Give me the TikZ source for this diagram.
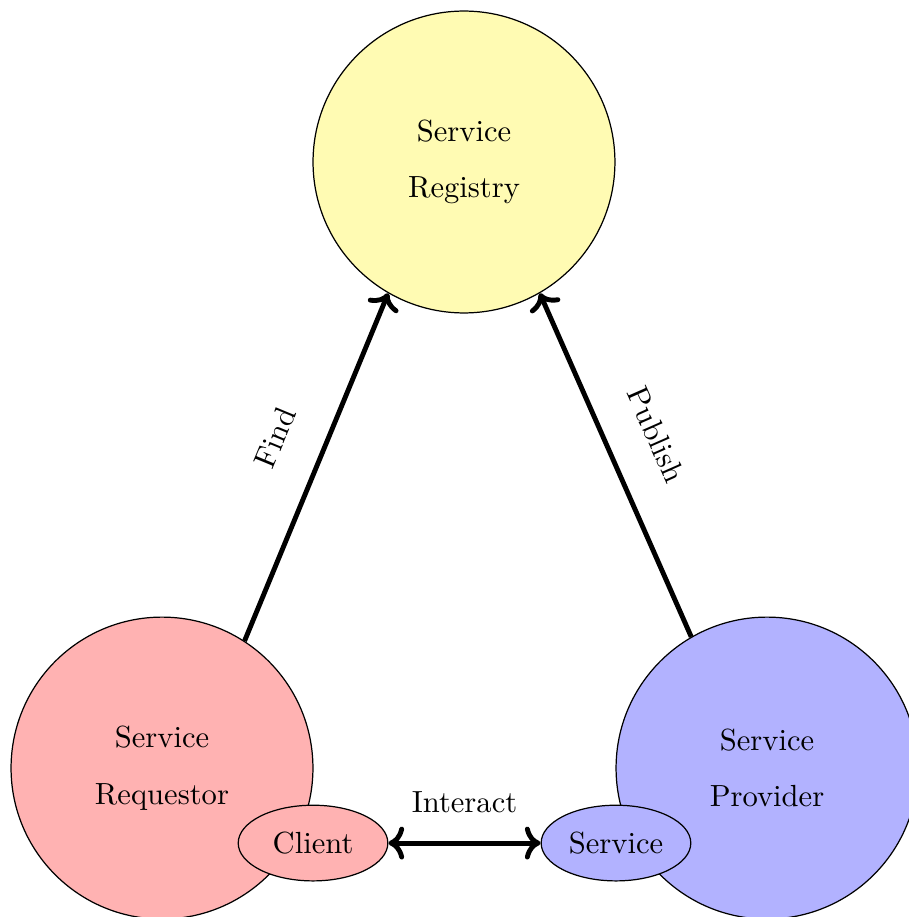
\documentclass[tikz,border=0pt]{standalone}
\usepackage{tikz}
\usetikzlibrary{arrows.meta,positioning,shapes.geometric}

\begin{document}
\begin{tikzpicture}[
  role/.style={circle,draw=black,minimum size=3.47cm,inner sep=0pt,
               align=center},
  part/.style={ellipse,draw=black,minimum width=1.72cm,minimum height=0.87cm,
               inner sep=0pt},
  arr/.style={->,ultra thick}
]
  \useasboundingbox (0,0) rectangle (10.448,-10.54);
  % the three roles
  \node[role,fill=yellow!30] (registry) at (5.333,-1.862) {Service\\[6.5pt]Registry};
  \node[role,fill=red!30] (requestor) at (1.862,-8.828) {Service\\[6.5pt]Requestor};
  \node[role,fill=blue!30] (provider) at (8.816,-8.828) {Service\\[6.5pt]Provider};
  % parts that talk to each other
  \node[part,fill=red!30] (client) at (3.598,-9.69) {Client};
  \node[part,fill=blue!30] (service) at (7.08,-9.69) {Service};
  \draw[arr] (requestor.57) -- node[pos=0.53,sloped,above=3mm]{Find} (registry.240);
  \draw[arr] (provider.120) -- node[pos=0.53,sloped,above=3mm]{Publish} (registry.300);
  \draw[arr,<->] (client) -- node[above=2mm]{Interact} (service);
\end{tikzpicture}
\end{document}
